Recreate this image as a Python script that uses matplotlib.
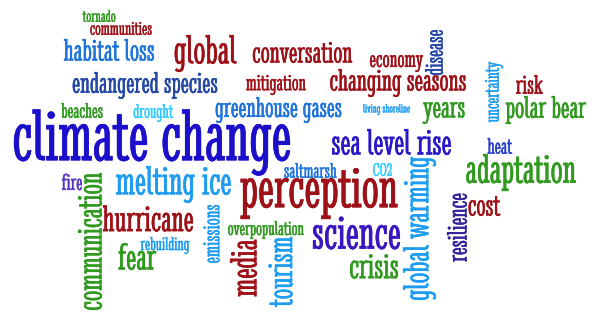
import matplotlib
matplotlib.use('Agg')
import matplotlib.pyplot as plt
import matplotlib.patheffects as pe
from matplotlib.font_manager import FontProperties
from matplotlib.textpath import TextPath

# words of the cloud
words = ['tornado', 'communities', 'habitat loss', 'global', 'conversation', 'economy',
         'disease', 'changing seasons', 'mitigation', 'endangered species', 'risk',
         'uncertainty', 'beaches', 'drought', 'greenhouse gases', 'living shoreline',
         'years', 'polar bear', 'climate change', 'sea level rise', 'heat', 'saltmarsh',
         'CO2', 'adaptation', 'fire', 'communication', 'melting ice', 'perception', 'cost',
         'hurricane', 'overpopulation', 'rebuilding', 'fear', 'emissions', 'media',
         'tourism', 'science', 'crisis', 'global warming', 'resilience']

# layout: ink box of each word in pixels (x0, x1, y0, y1), image top-left origin
boxes = [(76, 122, 10, 22), (83, 159, 22, 35), (57, 161, 39, 61), (167, 244, 35, 72),
         (250, 355, 42, 63), (370, 423, 55, 72), (425, 443, 30, 75), (318, 478, 69, 97),
         (245, 307, 75, 95), (57, 233, 72, 99), (512, 547, 75, 94), (485, 503, 57, 127),
         (57, 107, 103, 118), (131, 176, 104, 122), (199, 358, 97, 123), (363, 410, 104, 115),
         (419, 468, 102, 124), (499, 593, 96, 124), (14, 290, 109, 176), (312, 471, 129, 155),
         (487, 513, 138, 154), (280, 341, 163, 178), (372, 393, 163, 176), (457, 585, 154, 191),
         (62, 82, 173, 191), (77, 103, 173, 310), (107, 240, 166, 203), (240, 398, 168, 219),
         (467, 502, 196, 216), (103, 193, 205, 232), (222, 310, 221, 239), (135, 195, 237, 254),
         (118, 157, 243, 270), (203, 220, 205, 263), (230, 257, 238, 298), (268, 293, 237, 307),
         (313, 400, 216, 250), (350, 398, 253, 280), (402, 437, 157, 300), (447, 467, 183, 272)]
vertical = {'disease', 'uncertainty', 'communication', 'emissions', 'media', 'tourism',
            'global warming', 'resilience'}

RED = '#9E1118'
GREEN = '#2F9A1E'
NAVY = '#2447A8'
BLUE = '#1F74DC'
SKY = '#1E9CF0'
CYAN = '#33CCFF'
INDIGO = '#1C0FCB'
PURPLE = '#3A17C0'
colors = [GREEN, RED, BLUE, RED, RED, RED, NAVY, RED, RED, NAVY, RED, SKY, GREEN, CYAN,
          BLUE, SKY, GREEN, GREEN, INDIGO, '#2A18C8', '#2A40C8', BLUE, CYAN, GREEN,
          '#5A34C8', GREEN, SKY, RED, RED, RED, GREEN, SKY, GREEN, SKY, RED, SKY, PURPLE,
          GREEN, SKY, '#33229E']

DPI = 100
W, H = 603, 314
fp = FontProperties(family=['Stint Ultra Condensed', 'Smythe', 'DejaVu Serif'])

fig = plt.figure(figsize=(W / DPI, H / DPI), dpi=DPI)
ax = fig.add_axes([0, 0, 1, 1])
ax.set_xlim(0, W)
ax.set_ylim(H, 0)
ax.axis('off')

for word, (x0, x1, y0, y1), col in zip(words, boxes, colors):
    ext = TextPath((0, 0), word, size=100, prop=fp).get_extents()
    cx, cy = (x0 + x1) / 2, (y0 + y1) / 2
    if word in vertical:
        # reads bottom to top, letter tops point left
        k = min((y1 - y0) / ext.width, (x1 - x0) / ext.height)
        xa = cx + (ext.y0 + ext.y1) / 2 * k
        ya = cy + (ext.x0 + ext.x1) / 2 * k
        rot = 90
    else:
        k = min((x1 - x0) / ext.width, (y1 - y0) / ext.height)
        xa = cx - (ext.x0 + ext.width / 2) * k
        ya = cy + (ext.y0 + ext.y1) / 2 * k
        rot = 0
    size = k * 100 * 72 / DPI
    # very thin stroke in the same colour, the face is a bit lighter than the original
    ax.text(xa, ya, word, fontproperties=fp, fontsize=size, color=col,
            rotation=rot, rotation_mode='anchor', ha='left', va='baseline',
            path_effects=[pe.withStroke(linewidth=0.1 + size * 0.004, foreground=col)])

fig.savefig('out.png', dpi=DPI, facecolor='white')
